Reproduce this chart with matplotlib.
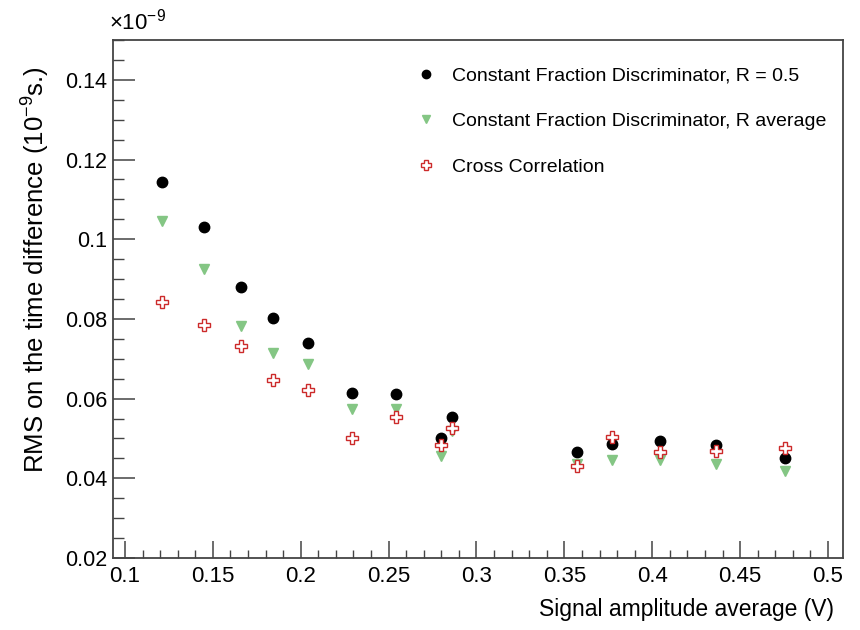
import matplotlib
matplotlib.use("Agg")
import matplotlib.pyplot as plt
from matplotlib.ticker import MultipleLocator, FormatStrFormatter

# signal amplitude average (V)
amplitude = [0.121, 0.145, 0.166, 0.184, 0.204, 0.229, 0.254,
             0.280, 0.286, 0.357, 0.377, 0.4045, 0.436, 0.4756]

# RMS on the time difference, in units of 1e-9 s
cfd_half = [0.1143, 0.1030, 0.0880, 0.0802, 0.0740, 0.0615, 0.0612,
            0.0502, 0.0554, 0.0467, 0.0487, 0.0494, 0.0484, 0.0452]
cfd_avg = [0.1045, 0.0925, 0.0782, 0.0715, 0.0687, 0.0575, 0.0574,
           0.0455, 0.0519, 0.0437, 0.0447, 0.0447, 0.0436, 0.0419]
cross_corr = [0.0843, 0.0785, 0.0732, 0.0647, 0.0622, 0.0501, 0.0555,
              0.0484, 0.0526, 0.0432, 0.0504, 0.0467, 0.0469, 0.0475]

labels = ["Constant Fraction Discriminator, R = 0.5",
          "Constant Fraction Discriminator, R average",
          "Cross Correlation"]

plt.rcParams["font.family"] = ["Liberation Sans", "DejaVu Sans"]
plt.rcParams["mathtext.fontset"] = "custom"
plt.rcParams["mathtext.rm"] = "Liberation Sans"

fig = plt.figure(figsize=(8.6, 6.3), dpi=100)
ax = fig.add_axes([0.1314, 0.1143, 0.8488, 0.8222])

ax.plot(amplitude, cfd_half, linestyle="none", marker="o", markersize=7.5,
        color="black", label=labels[0])
ax.plot(amplitude, cfd_avg, linestyle="none", marker="v", markersize=7.5,
        color="#84c684", label=labels[1])
ax.plot(amplitude, cross_corr, linestyle="none", marker="P", markersize=8.5,
        markerfacecolor="white", markeredgecolor="#cc2a2a",
        markeredgewidth=1.0, label=labels[2])

ax.set_xlim(0.0932, 0.5085)
ax.set_ylim(0.02, 0.15)

ax.xaxis.set_major_locator(MultipleLocator(0.05))
ax.xaxis.set_minor_locator(MultipleLocator(0.01))
ax.yaxis.set_major_locator(MultipleLocator(0.02))
ax.yaxis.set_minor_locator(MultipleLocator(0.005))
ax.xaxis.set_major_formatter(FormatStrFormatter("%g"))
ax.yaxis.set_major_formatter(FormatStrFormatter("%g"))

for s in ax.spines.values():
    s.set_color("#444444")
    s.set_linewidth(1.3)

ax.tick_params(axis="both", which="both", direction="in", color="#444444",
               top=False, right=False)
ax.tick_params(axis="x", which="major", length=12, width=1.1, pad=6,
               labelsize=16)
ax.tick_params(axis="x", which="minor", length=6, width=1.0)
ax.tick_params(axis="y", which="major", length=16, width=1.1, pad=4,
               labelsize=15.5)
ax.tick_params(axis="y", which="minor", length=8, width=1.0)

ax.set_ylabel("RMS on the time difference (10$^{-9}$s.)", fontsize=18.5)
ax.yaxis.set_label_coords(-0.085, 0.556)
ax.set_xlabel("Signal amplitude average (V)", fontsize=16.5,
              ha="right", x=0.988, labelpad=8)

ax.text(-0.005, 1.01, r"$\times$10$^{-9}$", transform=ax.transAxes,
        fontsize=16, ha="left", va="bottom")

ax.legend(loc="upper left", bbox_to_anchor=(0.392, 0.982), frameon=False,
          fontsize=14, markerscale=0.8, handlelength=1.0,
          handletextpad=0.8, labelspacing=1.45, numpoints=1)

fig.savefig("out.png", dpi=100)
